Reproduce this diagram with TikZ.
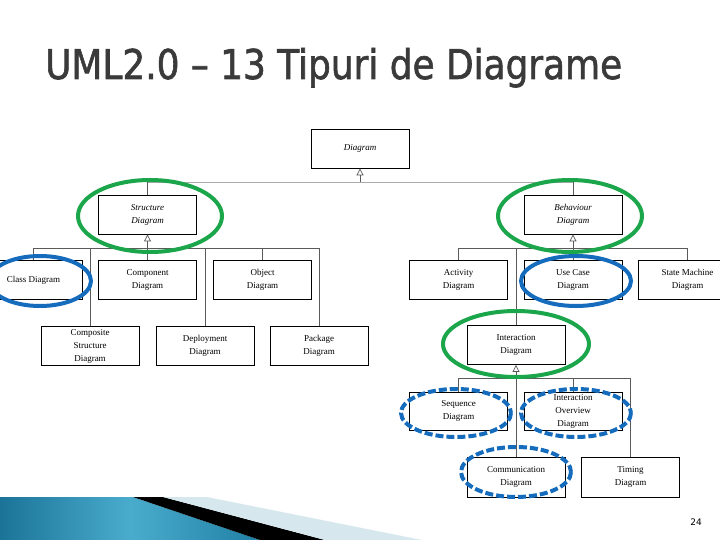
\documentclass[tikz,border=0pt]{standalone}
\usepackage{fontspec}
\setmainfont{Liberation Serif}
\newfontfamily\titlefont[FakeBold=1.6]{DejaVu Sans}
\newfontfamily\numfont{DejaVu Sans}
\usetikzlibrary{arrows.meta}
\definecolor{ringgreen}{RGB}{28,166,76}
\definecolor{ringblue}{RGB}{22,108,188}
\definecolor{titlegray}{RGB}{58,58,58}
\definecolor{banddark}{RGB}{27,116,152}
\definecolor{bandlight}{RGB}{74,172,205}
\definecolor{bandright}{RGB}{32,128,165}
\definecolor{bandpale}{RGB}{214,232,238}
\definecolor{connc}{RGB}{90,90,90}
\definecolor{busc}{RGB}{170,170,170}
\tikzset{
  umlbox/.style={draw=black, line width=0.8pt, fill=white, minimum width=98pt, minimum height=39pt,
    inner sep=1pt, align=center, font=\fontsize{9}{13}\selectfont},
  absbox/.style={umlbox, font=\fontsize{9}{13}\selectfont\itshape},
  conn/.style={draw=connc, line width=0.7pt},
  buscon/.style={draw=busc, line width=0.9pt},
  genarrow/.style={conn, -{Triangle[open, length=7pt, width=7pt, line width=0.7pt]}},
  greenring/.style={draw=ringgreen, line width=4pt},
  bluering/.style={draw=ringblue, line width=4pt},
  bluedash/.style={draw=ringblue, line width=4pt, dash pattern=on 8pt off 3pt}
}
\begin{document}
\begin{tikzpicture}[x=1pt, y=-1pt]
\useasboundingbox (0,0) rectangle (720,540);
\fill[white] (0,0) rectangle (720,540);

% title
\node[anchor=base west, inner sep=0, text=titlegray] (title) at (45,79)
  {\resizebox{577pt}{\height}{\titlefont\fontsize{41}{41}\selectfont UML2.0 – 13 Tipuri de Diagrame}};

% boxes
\node[absbox] (diag) at (360,148.5) {Diagram};
\node[absbox] (struct) at (147.5,214.5) {Structure\\Diagram};
\node[absbox] (behav) at (573,214.5) {Behaviour\\Diagram};

\node[umlbox] (class) at (33.5,280) {Class Diagram};
\node[umlbox] (comp) at (147.5,280) {Component\\Diagram};
\node[umlbox] (obj) at (262.5,280) {Object\\Diagram};
\node[umlbox] (compos) at (90,346) {Composite\\Structure\\Diagram};
\node[umlbox] (deploy) at (205,346) {Deployment\\Diagram};
\node[umlbox] (pack) at (319,346) {Package\\Diagram};

\node[umlbox] (act) at (458.5,280) {Activity\\Diagram};
\node[umlbox] (usecase) at (573,280) {Use Case\\Diagram};
\node[umlbox] (state) at (687.5,280) {State Machine\\Diagram};
\node[umlbox] (inter) at (516,345) {Interaction\\Diagram};
\node[umlbox, minimum height=38pt] (seq) at (458.5,411) {Sequence\\Diagram};
\node[umlbox, minimum height=38pt] (iov) at (573,411) {Interaction\\Overview\\Diagram};
\node[umlbox, minimum height=40pt] (comm) at (516,477) {Communication\\Diagram};
\node[umlbox, minimum height=40pt] (timing) at (630.5,477) {Timing\\Diagram};

% top level
\coordinate (tb) at (360,182);
\draw[buscon] (struct.north |- tb) -- (behav.north |- tb);
\draw[genarrow] (tb) -- (diag.south);
\draw[conn] (struct.north |- tb) -- (struct.north);
\draw[conn] (behav.north |- tb) -- (behav.north);

% structure
\coordinate (sb) at (147.5,248);
\draw[conn] (class.north |- sb) -- (pack.north |- sb);
\draw[genarrow] (sb) -- (struct.south);
\draw[conn] (comp.north |- sb) -- (comp.north);
\draw[conn] (class.north |- sb) -- (class.north);
\draw[conn] (obj.north |- sb) -- (obj.north);
\draw[conn] (compos.north |- sb) -- (compos.north);
\draw[conn] (deploy.north |- sb) -- (deploy.north);
\draw[conn] (pack.north |- sb) -- (pack.north);

% behaviour
\coordinate (bb) at (573,248);
\draw[conn] (act.north |- bb) -- (state.north |- bb);
\draw[genarrow] (bb) -- (behav.south);
\draw[conn] (usecase.north |- bb) -- (usecase.north);
\draw[conn] (act.north |- bb) -- (act.north);
\draw[conn] (state.north |- bb) -- (state.north);
\draw[conn] (inter.north |- bb) -- (inter.north);

% interaction
\coordinate (ib) at (516,378);
\draw[conn] (seq.north |- ib) -- (timing.north |- ib);
\draw[genarrow] (ib) -- (inter.south);
\draw[conn] (seq.north |- ib) -- (seq.north);
\draw[conn] (iov.north |- ib) -- (iov.north);
\draw[conn] (timing.north |- ib) -- (timing.north);
\draw[conn] (ib) -- (comm.north);

% rings
\draw[greenring] (150,216) ellipse [x radius=72, y radius=36];
\draw[greenring] (570,216) ellipse [x radius=72, y radius=36];
\draw[greenring] (516,344) ellipse [x radius=73, y radius=33];
\draw[bluering] (40,281) ellipse [x radius=51, y radius=25];
\draw[bluering] (576,281) ellipse [x radius=55, y radius=25];
\draw[bluedash] (456,413) ellipse [x radius=55, y radius=24];
\draw[bluedash] (576,413) ellipse [x radius=55, y radius=24];
\draw[bluedash] (516,472) ellipse [x radius=55, y radius=25];

% bottom band
\shade[left color=banddark, right color=bandright, middle color=bandlight]
  (0,497) -- (133,497) -- (260,540) -- (0,540) -- cycle;
\fill[black] (133,497) -- (163,497) -- (325,540) -- (260,540) -- cycle;
\fill[bandpale] (163,497) -- (207,497) -- (422,540) -- (325,540) -- cycle;

% page number
\node[font=\numfont\fontsize{9}{9}\selectfont, text=black, inner sep=0] (pnum) at (696,522) {24};
\end{tikzpicture}
\end{document}
